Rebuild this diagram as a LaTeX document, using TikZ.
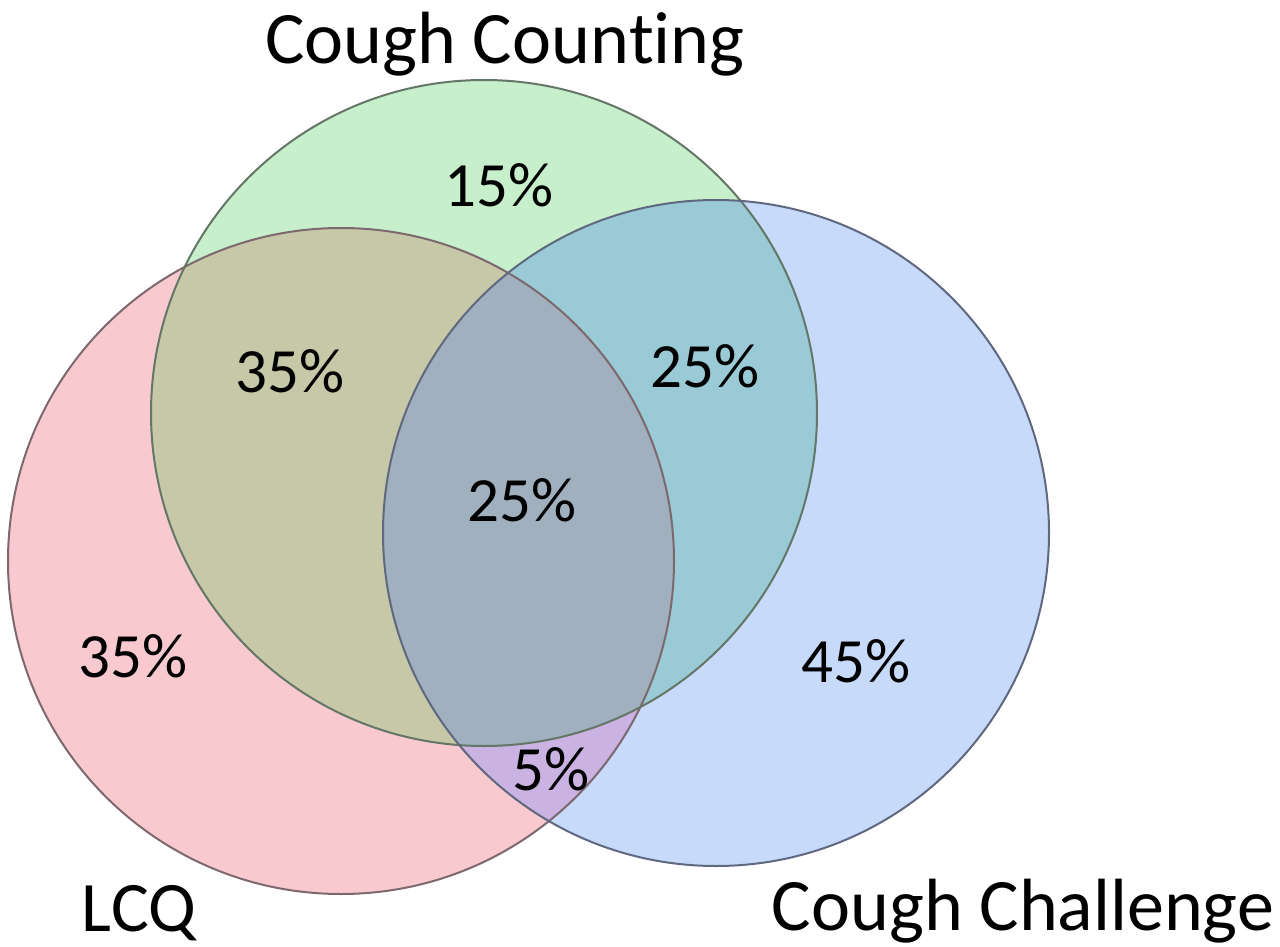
\documentclass[tikz,border=0pt]{standalone}
\usepackage{fontspec}
\setmainfont[RawFeature={-liga;-clig;-calt;-dlig}]{Carlito}
\definecolor{ronly}{RGB}{248,202,208}
\definecolor{gonly}{RGB}{199,239,204}
\definecolor{bonly}{RGB}{200,218,250}
\definecolor{gr}{RGB}{198,200,168}
\definecolor{gb}{RGB}{153,202,214}
\definecolor{rb}{RGB}{202,178,226}
\definecolor{grb}{RGB}{160,176,190}
\definecolor{rline}{RGB}{125,104,110}
\definecolor{gline}{RGB}{100,118,102}
\definecolor{bline}{RGB}{96,104,128}
\tikzset{
  lbl/.style={anchor=base, inner sep=0pt, font=\fontsize{63}{70}\selectfont},
  title/.style={anchor=base, inner sep=0pt, font=\fontsize{74}{80}\selectfont},
  ring/.style={line width=2pt}
}
\begin{document}
\begin{tikzpicture}[x=1pt,y=-1pt]
\useasboundingbox (0,0) rectangle (1280,947);
\fill[white] (0,0) rectangle (1280,947);
\def\rad{333}
\coordinate (cR) at (341,561);
\coordinate (cG) at (484,413);
\coordinate (cB) at (716,533);
% single fills
\fill[ronly] (cR) circle (\rad);
\fill[gonly] (cG) circle (\rad);
\fill[bonly] (cB) circle (\rad);
% pairwise
\begin{scope}
  \clip (cR) circle (\rad);
  \fill[gr] (cG) circle (\rad);
\end{scope}
\begin{scope}
  \clip (cG) circle (\rad);
  \fill[gb] (cB) circle (\rad);
\end{scope}
\begin{scope}
  \clip (cR) circle (\rad);
  \fill[rb] (cB) circle (\rad);
\end{scope}
\begin{scope}
  \clip (cR) circle (\rad);
  \clip (cG) circle (\rad);
  \fill[grb] (cB) circle (\rad);
\end{scope}
% outlines
\draw[ring, rline] (cR) circle (\rad);
\draw[ring, gline] (cG) circle (\rad);
\draw[ring, bline] (cB) circle (\rad);
% labels
\node[title] (tCC) at (505,64) {Cough Coun\mbox{t}\kern0pt\mbox{i}ng};
\node[title, font=\fontsize{71}{78}\selectfont] (tLCQ) at (139,931) {LCQ};
\node[title] (tCCh) at (1023,930) {Cough Challenge};
\node[lbl] (n15) at (499,206) {15\%};
\node[lbl] (n35a) at (290,392) {35\%};
\node[lbl] (n25a) at (705,387) {25\%};
\node[lbl] (n25b) at (522,521) {25\%};
\node[lbl] (n35b) at (133,677) {35\%};
\node[lbl] (n45) at (856,682) {45\%};
\node[lbl] (n5) at (551,790) {5\%};
\end{tikzpicture}
\end{document}
